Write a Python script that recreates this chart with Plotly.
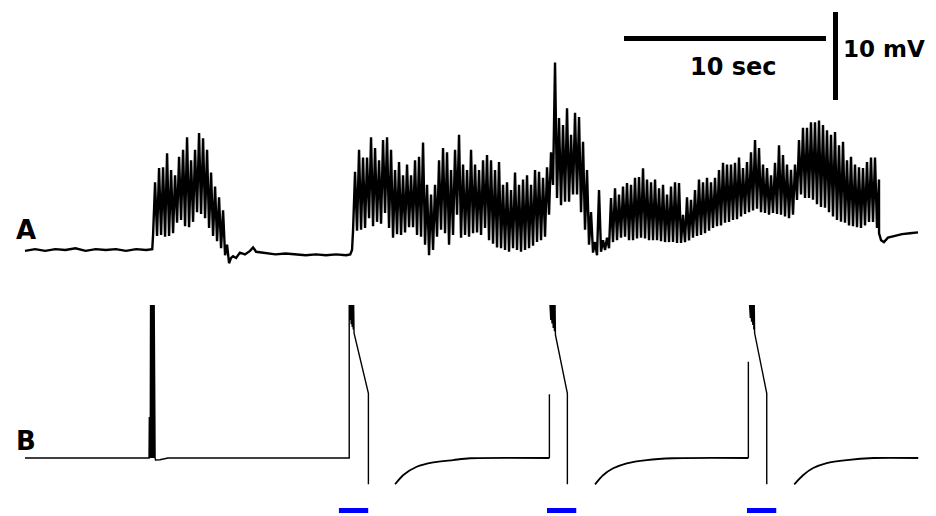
import numpy as np
import plotly.graph_objects as go

# ---------------- DATA ----------------
# Trace A (recorded membrane potential, mV relative to rest), time in s
pre_t = [0.0, 0.5, 1.0, 1.5, 2.0, 2.5, 3.0, 3.5, 4.0, 4.5, 5.0, 5.5, 6.0, 6.3]
pre_v = [-0.1, 0.1, -0.1, 0.1, 0.0, 0.2, -0.1, 0.1, 0.0, 0.1, -0.1, 0.1, 0.0, 0.1]

burst1_start = 6.34
burst2_start = 16.24
sample_dt = 0.198

burst1_up = [7.7, 9.3, 9.4, 11.0, 9.1, 8.5, 10.6, 11.4, 12.8, 10.2,
             11.4, 13.3, 12.7, 11.4, 8.8, 7.2, 6.0, 4.5, 0.6, -0.9]
burst1_lo = [1.7, 1.6, 1.7, 1.5, 1.6, 1.9, 3.1, 3.4, 2.7, 2.6,
             3.2, 4.3, 4.1, 3.6, 2.5, 1.6, 1.0, 0.2, -0.6, -1.5]

mid_t = [10.30, 10.45, 10.64, 10.89, 11.14, 11.29, 11.44, 11.88, 12.4, 12.9,
         13.4, 13.9, 14.4, 14.9, 15.4, 15.9, 16.1, 16.19]
mid_v = [-0.7, -0.9, -0.3, -0.5, -0.1, 0.3, -0.2, -0.3, -0.5, -0.4,
         -0.5, -0.6, -0.5, -0.6, -0.5, -0.6, -0.5, 0.0]

burst2_up = [8.9, 11.4, 10.5, 10.5, 12.8, 11.6, 10.2, 12.5, 12.8, 11.4,
             9.1, 10.0, 8.5, 9.7, 8.5, 10.2, 10.6, 12.2, 7.4, 6.3,
             7.4, 10.2, 11.6, 11.1, 9.1, 11.4, 13.1, 9.7, 9.1, 11.4,
             9.7, 9.1, 10.2, 10.8, 10.2, 9.1, 10.0, 7.4, 7.7, 6.8,
             8.8, 7.4, 8.0, 8.5, 7.4, 9.1, 8.9, 8.2, 9.4, 11.1,
             21.3, 15.0, 14.2, 16.1, 13.1, 15.6, 15.1, 12.3, 9.1, 4.3,
             0.9, 6.8, 1.1, 1.4, 5.9, 7.0, 6.3, 7.2, 7.6, 7.4,
             8.2, 8.3, 9.3, 8.0, 7.7, 8.0, 7.0, 7.4, 6.3, 7.2,
             7.7, 7.6, 4.0, 6.0, 5.7, 6.8, 8.0, 7.7, 8.2, 7.7,
             8.2, 9.1, 9.9, 9.7, 9.7, 9.9, 10.5, 9.3, 10.0, 11.1,
             12.5, 11.6, 9.7, 9.3, 8.5, 9.9, 11.9, 10.8, 9.7, 9.1,
             9.7, 12.5, 13.9, 13.9, 14.5, 14.5, 14.7, 14.2, 13.6, 13.1,
             13.4, 11.9, 12.3, 10.2, 10.6, 9.7, 9.4, 9.3, 10.0, 10.5,
             10.5, 8.0]
burst2_lo = [2.2, 2.2, 2.3, 2.5, 3.6, 2.7, 3.2, 3.0, 4.2, 2.5,
             1.4, 1.8, 1.7, 2.0, 2.6, 2.6, 1.7, 1.5, 0.6, -0.6,
             0.0, 1.5, 2.3, 1.9, 0.6, 1.7, 4.0, 1.4, 1.7, 1.5,
             1.9, 2.0, 1.7, 2.5, 1.1, 0.7, 0.3, 0.2, 0.0, -0.2,
             0.2, 0.0, -0.2, 0.0, 0.2, 0.5, 0.9, 1.1, 1.5, 4.0,
             7.4, 5.9, 5.1, 5.5, 5.5, 6.3, 6.3, 4.3, 2.3, 0.6,
             -0.3, -0.6, -0.2, 0.0, 0.2, 0.9, 1.1, 1.4, 1.5, 1.1,
             1.1, 1.3, 1.4, 1.3, 1.1, 1.1, 1.1, 1.0, 0.9, 0.9,
             0.9, 0.8, 0.8, 0.9, 1.1, 1.4, 1.6, 1.7, 1.9, 2.2,
             2.5, 2.7, 2.8, 3.1, 3.2, 3.4, 3.5, 3.8, 4.1, 4.3,
             4.5, 4.7, 4.3, 4.2, 4.0, 4.2, 4.1, 4.0, 3.8, 3.6,
             4.0, 5.7, 6.3, 5.9, 5.9, 5.7, 5.2, 4.9, 4.8, 4.3,
             3.8, 3.4, 3.2, 3.1, 2.8, 2.7, 2.6, 2.5, 2.8, 3.2,
             3.2, 2.5]

tail_t = [42.28, 42.38, 42.52, 42.72, 43.07, 43.42, 43.81, 44.21]
tail_v = [1.9, 1.1, 0.9, 1.4, 1.6, 1.8, 1.9, 2.0]

# Trace B (model output, same mV scale): fast parts and recovery curves
b_fast_t = [0.0, 6.14, 6.155, 6.17, 6.185, 6.20, 6.215, 6.23, 6.245, 6.26, 6.275, 6.29,
            6.305, 6.32, 6.335, 6.35, 6.365, 6.38, 6.395, 6.41, 6.425, 6.44, 6.46, 6.68, 7.08,
            16.05, 16.05, 16.10, 16.12, 16.15, 16.17, 16.20, 16.22, 16.25, 16.27, 16.29,
            17.00, 17.00, None,
            25.96, 25.96, None,
            25.99, 26.03, 26.06, 26.09, 26.12, 26.15, 26.18, 26.21, 26.24, 26.26,
            26.85, 26.85, None,
            35.81, 35.81, None,
            35.87, 35.91, 35.94, 35.97, 36.00, 36.03, 36.06, 36.08, 36.10, 36.12,
            36.72, 36.72]
b_fast_v = [0, 0, 4.66, 0, 4.66, 0, 17.39, 0, 17.39, 0, 17.39, 0,
            17.39, 0, 17.39, 0, 17.39, 0, 17.39, 0, 16.82, 0, -0.23, -0.2, 0,
            0, 17.39, 15.68, 17.39, 15.2, 17.39, 14.89, 17.39, 14.6, 17.39, 14.2,
            7.35, -2.99, None,
            0, 7.24, None,
            17.39, 15.68, 17.39, 15.3, 17.39, 14.77, 17.39, 14.4, 17.39, 13.98,
            7.35, -2.99, None,
            0, 10.94, None,
            17.39, 15.91, 17.39, 15.5, 17.39, 15.11, 17.39, 14.6, 17.39, 14.2,
            7.35, -2.99]
b_rec_t = [18.32, 18.73, 19.39, 20.21, 21.20, 22.03, 25.96, None,
           28.22, 28.63, 29.12, 29.79, 30.78, 32.08, 35.81, None,
           38.08, 38.53, 39.02, 39.69, 40.68, 42.00, 44.22]
b_rec_v = [-2.99, -1.93, -0.99, -0.49, -0.23, -0.03, 0, None,
           -2.99, -1.93, -1.17, -0.6, -0.23, -0.03, 0, None,
           -2.99, -1.93, -1.14, -0.57, -0.23, 0, 0]

# Stimulus periods (blue bars), start times in s and duration
stim_starts = [15.54, 25.84, 35.74]
stim_duration = 1.45

# Scale bars
scale_time = 10.0   # s
scale_volt = 10.0   # mV
scale_labels = ["10 sec", "10 mV"]
trace_labels = ["A", "B"]

# ---------------- BUILD TRACE A ----------------
def zigzag(start, lo, up, dt):
    t, v = [], []
    for i, (l, u) in enumerate(zip(lo, up)):
        t += [start + i * dt, start + i * dt + dt / 2]
        v += [l, u]
    return t, v

b1_t, b1_v = zigzag(burst1_start, burst1_lo, burst1_up, sample_dt)
b2_t, b2_v = zigzag(burst2_start, burst2_lo, burst2_up, sample_dt)
a_t = pre_t + b1_t + mid_t + b2_t + tail_t
a_v = pre_v + b1_v + mid_v + b2_v + tail_v

# ---------------- GEOMETRY ----------------
# page body has an 8 px margin; figure fills the rest of the 936x516 window
OFF = 8
W, H = 936 - OFF, 516 - OFF
px_s = 20.2      # px per second
px_mv = 8.8      # px per mV
x0_px = 25       # window px of t = 0
a_base_px = 250  # window px of trace A rest level
b_base_px = 458  # window px of trace B rest level

xr = [(OFF - x0_px) / px_s, (936 - x0_px) / px_s]
yr_a = [(a_base_px - 516) / px_mv, (a_base_px - OFF) / px_mv]
yr_b = [(b_base_px - 516) / px_mv, (b_base_px - OFF) / px_mv]

fig = go.Figure()
fig.add_trace(go.Scatter(x=a_t, y=a_v, mode="lines",
                         line=dict(color="black", width=2.4), yaxis="y"))
fig.add_trace(go.Scatter(x=b_fast_t, y=b_fast_v, mode="lines",
                         line=dict(color="black", width=1.4), yaxis="y2",
                         connectgaps=False))
fig.add_trace(go.Scatter(x=b_rec_t, y=b_rec_v, mode="lines",
                         line=dict(color="black", width=1.8, shape="spline", smoothing=0.8),
                         yaxis="y2", connectgaps=False))

stim_level = (b_base_px - 510.5) / px_mv
for s in stim_starts:
    fig.add_trace(go.Scatter(x=[s, s + stim_duration], y=[stim_level, stim_level], mode="lines",
                             line=dict(color="#0000ff", width=5), yaxis="y2"))

hbar_t0 = (624 - x0_px) / px_s
hbar_v = (a_base_px - 38.5) / px_mv
vbar_t = (835.5 - x0_px) / px_s
vbar_v0 = (a_base_px - 100) / px_mv

shapes = [
    dict(type="line", xref="x", yref="y", x0=hbar_t0, x1=hbar_t0 + scale_time,
         y0=hbar_v, y1=hbar_v, line=dict(color="black", width=5)),
    dict(type="line", xref="x", yref="y", x0=vbar_t, x1=vbar_t,
         y0=vbar_v0, y1=vbar_v0 + scale_volt, line=dict(color="black", width=5)),
]


def px(xw, yw):
    return (xw - OFF) / W, 1 - (yw - OFF) / H


font_s = dict(family="DejaVu Sans", size=24, color="black")
font_m = dict(family="DejaVu Sans", size=23, color="black")
font_l = dict(family="DejaVu Sans", size=26, color="black")
ann_pos = [(733, 67, scale_labels[0], font_s), (884, 49, scale_labels[1], font_m),
           (26, 230, trace_labels[0], font_l), (26, 441, trace_labels[1], font_l)]
annotations = []
for xw, yw, txt, f in ann_pos:
    xp, yp = px(xw, yw)
    annotations.append(dict(text="<b>%s</b>" % txt, x=xp, y=yp, xref="paper", yref="paper",
                            showarrow=False, xanchor="center", yanchor="middle", font=f))

fig.update_layout(
    width=W, height=H,
    margin=dict(l=0, r=0, t=0, b=0),
    paper_bgcolor="white", plot_bgcolor="white",
    showlegend=False,
    xaxis=dict(range=xr, visible=False, fixedrange=True),
    yaxis=dict(range=yr_a, visible=False, fixedrange=True),
    yaxis2=dict(range=yr_b, visible=False, overlaying="y", fixedrange=True),
    shapes=shapes,
    annotations=annotations,
)

fig.write_html("out.html")
